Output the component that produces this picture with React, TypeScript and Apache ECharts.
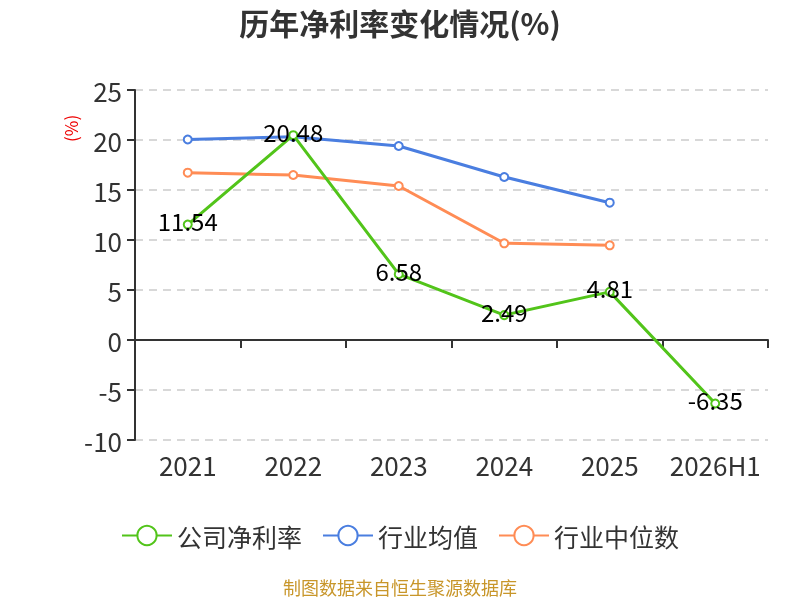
import React, { useEffect, useRef } from "react";
import * as echarts from "echarts";

const categories = ["2021", "2022", "2023", "2024", "2025", "2026H1"];
const companyRate = [11.54, 20.48, 6.58, 2.49, 4.81, -6.35];
const industryAvg = [20.05, 20.33, 19.4, 16.3, 13.73, null];
const industryMedian = [16.73, 16.5, 15.4, 9.67, 9.47, null];

const FONT = "'Noto Sans CJK SC', 'Noto Sans', sans-serif";

export default function App() {
  const ref = useRef<HTMLDivElement>(null);
  useEffect(() => {
    const chart = echarts.init(ref.current!, null, { renderer: "svg" });
    const mk = (name: string, data: any[], color: string, label: boolean) => ({
      name,
      type: "line",
      data,
      xAxisIndex: 0,
      symbol: "emptyCircle",
      symbolSize: 8,
      lineStyle: { width: 3, color },
      itemStyle: { color, borderWidth: 2 },
      label: label
        ? {
            show: true,
            position: "inside",
            offset: [0, -4],
            color: "#000",
            fontSize: 24,
            fontFamily: FONT,
          }
        : { show: false },
      z: label ? 3 : 2,
    });
    chart.setOption({
      animation: false,
      textStyle: { fontFamily: FONT },
      title: {
        text: "历年净利率变化情况(%)",
        left: "center",
        top: 2,
        textStyle: { fontSize: 30, fontWeight: "bold", color: "#333", fontFamily: FONT },
      },
      grid: { left: 135, right: 32, top: 90, bottom: 160 },
      legend: {
        top: 518,
        left: "center",
        itemWidth: 50,
        itemHeight: 24,
        itemGap: 20,
        textStyle: { fontSize: 25, color: "#333", fontFamily: FONT },
        data: ["公司净利率", "行业均值", "行业中位数"],
      },
      xAxis: [
        {
          type: "category",
          data: categories,
          axisLine: { onZero: true, lineStyle: { color: "#333", width: 2 } },
          axisTick: { show: true, length: 8, lineStyle: { color: "#333", width: 2 } },
          axisLabel: { show: false },
        },
        {
          type: "category",
          data: categories,
          position: "bottom",
          axisLine: { show: false, onZero: false },
          axisTick: { show: false },
          axisLabel: { show: true, interval: 0, fontSize: 26, color: "#333", margin: 11, fontFamily: FONT },
        },
      ],
      yAxis: {
        type: "value",
        min: -10,
        max: 25,
        interval: 5,
        axisLine: { show: true, lineStyle: { color: "#333", width: 2 } },
        axisTick: { show: true, length: 8, lineStyle: { color: "#333", width: 2 } },
        axisLabel: { fontSize: 26, color: "#333", margin: 13, fontFamily: FONT },
        splitLine: { lineStyle: { type: [8, 6], color: "#ccc", width: 1.5 } },
      },
      graphic: [
        {
          type: "text",
          x: 62,
          y: 142,
          rotation: Math.PI / 2,
          style: { text: "(%)", fill: "#e00", fontSize: 17, fontFamily: FONT },
        },
        {
          type: "text",
          left: "center",
          top: 578,
          style: { text: "制图数据来自恒生聚源数据库", fill: "#c8962a", fontSize: 18, fontFamily: FONT },
        },
      ],
      series: [
        mk("行业均值", industryAvg, "#4a7ee0", false),
        mk("行业中位数", industryMedian, "#ff8c55", false),
        mk("公司净利率", companyRate, "#52c41a", true),
      ],
    });
    return () => chart.dispose();
  }, []);
  return (
    <div
      ref={ref}
      style={{ position: "fixed", left: 0, top: 0, width: 800, height: 600 }}
    />
  );
}
